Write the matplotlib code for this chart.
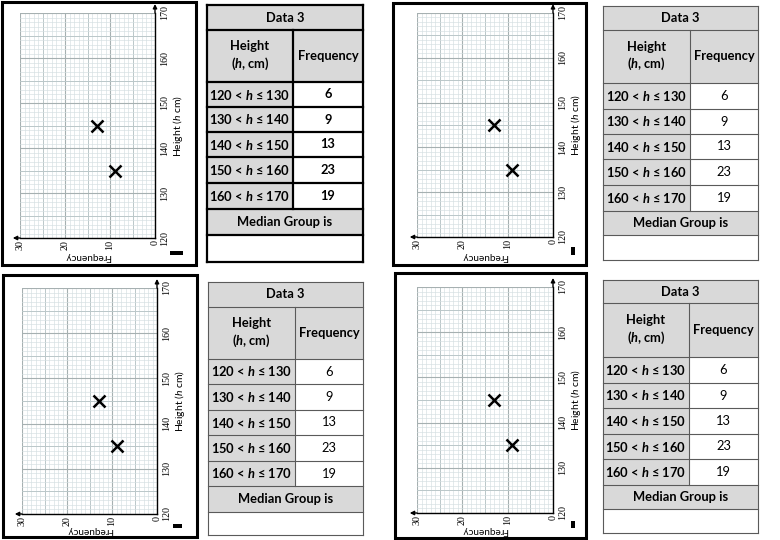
import matplotlib
matplotlib.use("Agg")
import matplotlib.pyplot as plt
from matplotlib.patches import Rectangle

plt.rcParams['mathtext.fontset'] = 'custom'
plt.rcParams['mathtext.it'] = 'Lato:italic:bold'
plt.rcParams['mathtext.sf'] = 'Lato:italic'

# --- data -----------------------------------------------------------------
table_title = "Data 3"
col_headers = ["Height\n($h$, cm)", "Frequency"]
height_lower = [120, 130, 140, 150, 160]
height_upper = [130, 140, 150, 160, 170]
frequency = [6, 9, 13, 23, 19]
plotted_groups = [1, 2]          # groups already plotted at their midpoints
median_label = "Median Group is"

height_ticks = [120, 130, 140, 150, 160, 170]
freq_ticks = [0, 10, 20, 30]
height_title = r"Height ($\mathsf{h}$ cm)"
freq_title = "Frequency"

# --- layout (pixels) ------------------------------------------------------
W, H = 780, 540
GRAY = "#d9d9d9"
TABLE_FONT = ["Lato", "DejaVu Sans"]

graphs = [
    # border box, grid box, little black mark, distance of "Frequency" below axis
    dict(border=(2, 2, 196, 265), grid=(20, 13, 155, 238), mark=(170, 251, 183, 255), fdy=19),
    dict(border=(393, 3, 586, 265), grid=(417, 13, 553, 237), mark=(571, 247, 575, 255), fdy=20),
    dict(border=(3, 275, 197, 537), grid=(22, 288, 157, 514), mark=(173, 524, 182, 528), fdy=16),
    dict(border=(395, 273, 586, 538), grid=(417, 287, 553, 513), mark=(571, 521, 575, 528), fdy=18),
]

tables = [
    dict(xs=(207, 293, 363), ys=[5, 30, 82, 107, 132, 157, 183, 209, 235, 262], heavy=True),
    dict(xs=(603, 690, 758), ys=[6, 30, 83, 109, 134, 159, 185, 211, 235, 260], heavy=False),
    dict(xs=(208, 295, 363), ys=[282, 307, 359, 384, 410, 435, 461, 486, 512, 535], heavy=False),
    dict(xs=(603, 689, 758), ys=[280, 303, 357, 383, 408, 434, 459, 485, 509, 533], heavy=False),
]


def paper_style(v):
    if v % 10 == 0:
        return "#a6b0b1", 0.8
    if v % 5 == 0:
        return "#bac7c9", 0.7
    return "#d4dfe1", 0.45


def draw_graph(fig, bg, spec):
    bx0, by0, bx1, by1 = spec['border']
    bg.add_patch(Rectangle((bx0, by0), bx1 - bx0, by1 - by0, fill=False,
                           ec='black', lw=2.2))
    mx0, my0, mx1, my1 = spec['mark']
    bg.add_patch(Rectangle((mx0, my0), mx1 - mx0, my1 - my0, fc='black', ec='none'))

    x0, y0, x1, y1 = spec['grid']
    ax = fig.add_axes([x0 / W, 1 - y1 / H, (x1 - x0) / W, (y1 - y0) / H])
    ax.set_xlim(freq_ticks[-1], freq_ticks[0])
    ax.set_ylim(height_ticks[0], height_ticks[-1])

    # graph paper
    for f in range(freq_ticks[0], freq_ticks[-1] + 1):
        c, lw = paper_style(f)
        ax.axvline(f, color=c, lw=lw, zorder=1)
    for h in range(height_ticks[0], height_ticks[-1] + 1):
        c, lw = paper_style(h)
        ax.axhline(h, color=c, lw=lw, zorder=1)

    for s in ['left', 'top']:
        ax.spines[s].set_visible(False)
    for s in ['right', 'bottom']:
        ax.spines[s].set_color('black')
        ax.spines[s].set_linewidth(1.0)
        ax.spines[s].set_zorder(3)

    ax.yaxis.tick_right()
    ax.set_yticks(height_ticks)
    ax.set_yticklabels([str(v) for v in height_ticks], rotation=90, va='center',
                       fontfamily='Liberation Serif', fontsize=7.2)
    ax.set_xticks(freq_ticks)
    ax.set_xticklabels([str(v) for v in freq_ticks], rotation=90,
                       fontfamily='Liberation Serif', fontsize=7.2)
    ax.tick_params(axis='y', length=0, pad=3.5)
    ax.tick_params(axis='x', length=0, pad=1.2)

    ax.yaxis.set_label_position('right')
    ax.set_ylabel(height_title, rotation=90, fontfamily=TABLE_FONT, fontsize=7.5,
                  labelpad=1.5)
    ax.annotate(freq_title, xy=(0.5, 0), xycoords='axes fraction',
                xytext=(0, -spec['fdy'] * 0.72), textcoords='offset points',
                rotation=180, ha='center', va='center',
                fontfamily=TABLE_FONT, fontsize=7.2, annotation_clip=False)

    # axis arrows
    arrow = dict(arrowstyle='-|>', color='black', lw=1.0, mutation_scale=6,
                 shrinkA=0, shrinkB=0)
    ax.annotate('', xy=(freq_ticks[0], height_ticks[-1] + 2),
                xytext=(freq_ticks[0], height_ticks[-1]),
                arrowprops=arrow, annotation_clip=False)
    ax.annotate('', xy=(freq_ticks[-1] + 1.6, height_ticks[0]),
                xytext=(freq_ticks[-1], height_ticks[0]),
                arrowprops=arrow, annotation_clip=False)

    mids = [(height_lower[i] + height_upper[i]) / 2 for i in plotted_groups]
    vals = [frequency[i] for i in plotted_groups]
    ax.plot(vals, mids, 'x', color='black', ms=9, mew=1.8, zorder=4, clip_on=False)


def draw_table(bg, spec):
    xl, xm, xr = spec['xs']
    ys = spec['ys']
    heavy = spec['heavy']
    lc = 'black' if heavy else '#5a5a5a'
    lw = 1.6 if heavy else 0.8
    fs = 9.3

    # fills
    bg.add_patch(Rectangle((xl, ys[0]), xr - xl, ys[2] - ys[0], fc=GRAY, ec='none'))
    bg.add_patch(Rectangle((xl, ys[2]), xm - xl, ys[7] - ys[2], fc=GRAY, ec='none'))
    bg.add_patch(Rectangle((xl, ys[7]), xr - xl, ys[8] - ys[7], fc=GRAY, ec='none'))

    # lines
    for y in ys:
        bg.plot([xl, xr], [y, y], color=lc, lw=lw, solid_capstyle='projecting')
    bg.plot([xl, xl], [ys[0], ys[-1]], color=lc, lw=lw)
    bg.plot([xr, xr], [ys[0], ys[-1]], color=lc, lw=lw)
    bg.plot([xm, xm], [ys[1], ys[7]], color=lc, lw=lw)

    def mid(a, b):
        return (a + b) / 2

    bold = dict(fontfamily=TABLE_FONT, fontsize=fs, fontweight='bold',
                ha='center', va='center')
    val_style = dict(bold)
    if not heavy:
        val_style['fontweight'] = 'normal'

    bg.text(mid(xl, xr), mid(ys[0], ys[1]), table_title, **bold)
    bg.text(mid(xl, xm), mid(ys[1], ys[2]), col_headers[0], linespacing=1.3, **bold)
    bg.text(mid(xm, xr), mid(ys[1], ys[2]), col_headers[1], **bold)
    for i, (lo, hi, f) in enumerate(zip(height_lower, height_upper, frequency)):
        yc = mid(ys[2 + i], ys[3 + i])
        bg.text(mid(xl, xm), yc, f"{lo} < $h$ ≤ {hi}", **bold)
        bg.text(mid(xm, xr), yc, str(f), **val_style)
    bg.text(mid(xl, xr), mid(ys[7], ys[8]), median_label, **bold)


fig = plt.figure(figsize=(W / 100, H / 100), dpi=100)
bg = fig.add_axes([0, 0, 1, 1])
bg.set_xlim(0, W)
bg.set_ylim(H, 0)
bg.axis('off')

for g in graphs:
    draw_graph(fig, bg, g)
for t in tables:
    draw_table(bg, t)

fig.savefig("out.png", dpi=100)
